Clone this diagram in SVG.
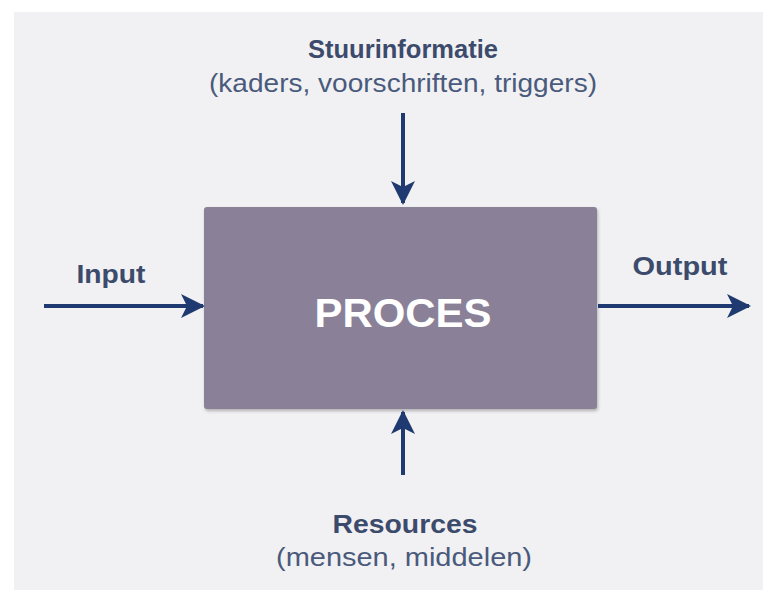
<svg xmlns="http://www.w3.org/2000/svg" width="763" height="596" viewBox="0 0 763 596">
<style>
.bg{fill:#f1f1f3}
.box{fill:#8a8199}
.lbl{font-family:"Liberation Sans",Arial,sans-serif;font-size:25px;font-weight:bold;fill:#3c4b6b;text-anchor:middle}
.sub{font-family:"Liberation Sans",Arial,sans-serif;font-size:25px;fill:#4a5a7c;text-anchor:middle}
.title{font-family:"Liberation Sans",Arial,sans-serif;font-size:40px;font-weight:bold;fill:#ffffff;text-anchor:middle}
.conn{stroke:#1e3a70;stroke-width:4;fill:none}
</style>
<defs>
<marker id="ah" viewBox="0 0 12 12" refX="11" refY="6" markerWidth="6" markerHeight="6" markerUnits="strokeWidth" orient="auto">
<path d="M0,0 L12,6 L0,12 L3,6 Z" fill="#1e3a70"/>
</marker>
<filter id="sh" x="-5%" y="-5%" width="110%" height="110%">
<feDropShadow dx="1" dy="2" stdDeviation="1.5" flood-color="#555" flood-opacity="0.4"/>
</filter>
</defs>
<rect width="763" height="596" fill="#ffffff"/>
<rect class="bg" x="14" y="12" width="749" height="578"/>
<g id="proces">
<rect class="box" x="204" y="207" width="393" height="202" rx="3" filter="url(#sh)"/>
<text class="title" x="403" y="327" textLength="177" lengthAdjust="spacingAndGlyphs">PROCES</text>
</g>
<g id="stuurinformatie">
<text class="lbl" x="403" y="58" textLength="190" lengthAdjust="spacingAndGlyphs">Stuurinformatie</text>
<text class="sub" x="403" y="92" textLength="388" lengthAdjust="spacingAndGlyphs">(kaders, voorschriften, triggers)</text>
</g>
<g id="input">
<text class="lbl" x="111" y="283" textLength="69" lengthAdjust="spacingAndGlyphs">Input</text>
</g>
<g id="output">
<text class="lbl" x="680" y="275" textLength="95" lengthAdjust="spacingAndGlyphs">Output</text>
</g>
<g id="resources">
<text class="lbl" x="405" y="533" textLength="145" lengthAdjust="spacingAndGlyphs">Resources</text>
<text class="sub" x="404" y="566" textLength="256" lengthAdjust="spacingAndGlyphs">(mensen, middelen)</text>
</g>
<g id="connectors">
<line class="conn" x1="403" y1="113" x2="403" y2="203" marker-end="url(#ah)"/>
<line class="conn" x1="44" y1="306" x2="203" y2="306" marker-end="url(#ah)"/>
<line class="conn" x1="598" y1="306" x2="749" y2="306" marker-end="url(#ah)"/>
<line class="conn" x1="403" y1="475" x2="403" y2="412" marker-end="url(#ah)"/>
</g>
</svg>
